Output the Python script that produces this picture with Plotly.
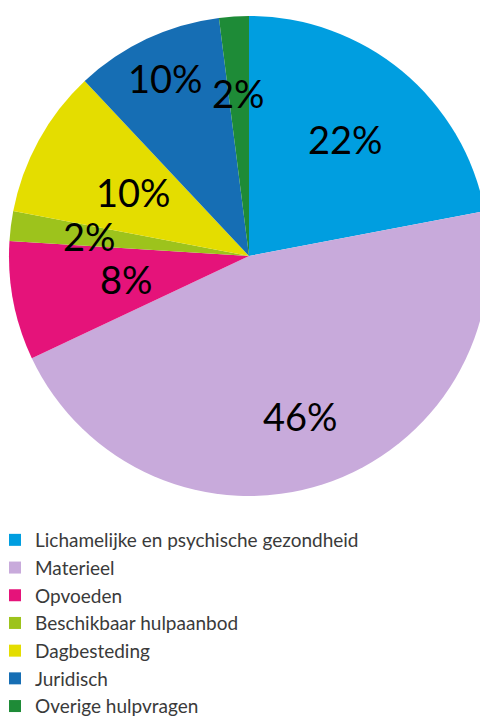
import math
import plotly.graph_objects as go

categories = ["Lichamelijke en psychische gezondheid", "Materieel", "Opvoeden",
              "Beschikbaar hulpaanbod", "Dagbesteding", "Juridisch", "Overige hulpvragen"]
values = [22, 46, 8, 2, 10, 10, 2]
colors = ["#009EE0", "#C8AADB", "#E5137A", "#9DC31C", "#E4DD00", "#166EB4", "#1E8B37"]
label_radius = [0.63, 0.70, 0.52, 0.67, 0.55, 0.82, 0.68]

W, H = 488, 716
# pie placement in figure pixels
left, right, top, bottom = 1, 481, 8, 488
dom_x = [left / W, right / W]
dom_y = [(H - bottom) / H, (H - top) / H]

fig = go.Figure(go.Pie(
    labels=categories, values=values, sort=False, direction="clockwise",
    rotation=0, marker=dict(colors=colors, line=dict(width=0)),
    textinfo="none", hoverinfo="label+percent",
    domain=dict(x=dom_x, y=dom_y),
))

cx = (left + right) / 2
cy = (top + bottom) / 2
R = min(right - left, bottom - top) / 2
total = sum(values)
cum = 0
for v, f in zip(values, label_radius):
    mid = (cum + v / 2) / total * 2 * math.pi
    cum += v
    px = cx + R * f * math.sin(mid)
    py = cy - R * f * math.cos(mid)
    fig.add_annotation(x=px / W, y=1 - py / H, xref="paper", yref="paper",
                       xanchor="center", yanchor="middle",
                       text=f"{round(v / total * 100)}%", showarrow=False,
                       font=dict(family="Lato", size=38, color="black"))

fig.update_layout(
    width=W, height=H, margin=dict(l=0, r=0, t=0, b=0, autoexpand=False),
    paper_bgcolor="white", plot_bgcolor="white",
    font=dict(family="Lato", color="#404040"),
    legend=dict(x=-13 / W, y=1 - 513 / H, xanchor="left", yanchor="top",
                font=dict(size=19, family="Lato", color="#3A3A3A"),
                traceorder="normal", itemwidth=30),
    showlegend=True,
)

fig.write_html("out.html")
